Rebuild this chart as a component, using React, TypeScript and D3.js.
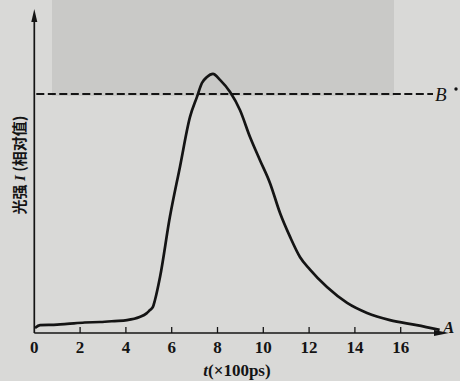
import * as d3 from "d3";
import { useEffect, useRef } from "react";

const WIDTH = 460;
const HEIGHT = 381;

// time in units of 100 ps
const TIMES = [
  0.03, 0.25, 1.0, 1.43, 2.2, 2.87, 3.5, 4.05, 4.6, 4.9, 5.05, 5.18, 5.27, 5.49, 5.92, 6.36, 6.8, 7.1,
  7.32, 7.54, 7.8, 8.11, 8.55, 8.98, 9.42, 9.85, 10.29, 10.73, 11.17, 11.6, 12.04, 12.78, 13.66,
  14.53, 15.53, 16.7, 17.7,
];
// relative intensity, dashed level B = 100
const INTENSITY = [
  2.1, 3.3, 3.5, 3.8, 4.4, 4.6, 5.0, 5.4, 6.7, 8.2, 9.6, 10.9, 13.8, 23.4, 48.5, 69.5, 90.4, 98.7,
  104.6, 107.1, 108.4, 105.9, 100.8, 93.3, 82, 72.4, 62.8, 50.2, 40.2, 31.8, 26.5, 19.2, 12.6, 8.4,
  5.4, 3.3, 1.3,
];
const X_TICKS = [0, 2, 4, 6, 8, 10, 12, 14, 16];
const B_LEVEL = 100;

const SERIF = "'Liberation Serif', 'DejaVu Serif', serif";
const CJK = "'Noto Sans CJK SC', 'Noto Sans', sans-serif";

export default function App() {
  const ref = useRef<SVGSVGElement>(null);

  useEffect(() => {
    const svg = d3.select(ref.current);
    svg.selectAll("*").remove();

    const x = d3.scaleLinear().domain([0, 18]).range([34.3, 446.5]);
    const y = d3.scaleLinear().domain([0, 100]).range([333, 94]);

    // paper
    svg.append("rect").attr("width", WIDTH).attr("height", HEIGHT).attr("fill", "#d9d9d7");
    svg.append("rect").attr("x", 52).attr("y", 0).attr("width", 342).attr("height", 96).attr("fill", "#c9c9c7");

    const ink = "#141414";

    // dashed B level
    svg
      .append("line")
      .attr("x1", x(0) + 2)
      .attr("x2", 433)
      .attr("y1", y(B_LEVEL))
      .attr("y2", y(B_LEVEL))
      .attr("stroke", ink)
      .attr("stroke-width", 1.8)
      .attr("stroke-dasharray", "8,3.5");

    // axes
    svg
      .append("line")
      .attr("x1", x(0))
      .attr("x2", x(0))
      .attr("y1", y(0))
      .attr("y2", 16)
      .attr("stroke", ink)
      .attr("stroke-width", 1.7);
    svg
      .append("path")
      .attr("d", `M${x(0)},9 L${x(0) - 3},22 L${x(0) + 3},22 Z`)
      .attr("fill", ink);
    svg
      .append("line")
      .attr("x1", x(0))
      .attr("x2", 440)
      .attr("y1", y(0))
      .attr("y2", y(0))
      .attr("stroke", ink)
      .attr("stroke-width", 1.7);
    svg
      .append("path")
      .attr("d", `M449,${y(0)} L434,${y(0) - 3} L434,${y(0) + 3} Z`)
      .attr("fill", ink);

    // ticks
    svg
      .append("g")
      .selectAll("line")
      .data(X_TICKS.slice(1))
      .join("line")
      .attr("x1", (d) => x(d))
      .attr("x2", (d) => x(d))
      .attr("y1", y(0))
      .attr("y2", y(0) - 6)
      .attr("stroke", ink)
      .attr("stroke-width", 1.3);

    svg
      .append("g")
      .selectAll("text")
      .data(X_TICKS)
      .join("text")
      .attr("x", (d) => x(d))
      .attr("y", 353)
      .attr("text-anchor", "middle")
      .attr("font-family", SERIF)
      .attr("font-weight", "bold")
      .attr("font-size", 17)
      .attr("fill", ink)
      .text((d) => d);

    // x label
    const xl = svg
      .append("text")
      .attr("x", 237)
      .attr("y", 376)
      .attr("text-anchor", "middle")
      .attr("font-family", SERIF)
      .attr("font-weight", "bold")
      .attr("font-size", 17)
      .attr("fill", ink);
    xl.append("tspan").attr("font-style", "italic").text("t");
    xl.append("tspan").text("(×100ps)");

    // y label
    const yl = svg
      .append("text")
      .attr("transform", `translate(25,165) rotate(-90)`)
      .attr("text-anchor", "middle")
      .attr("font-family", CJK)
      .attr("font-weight", "bold")
      .attr("font-size", 15)
      .attr("fill", ink);
    yl.append("tspan").text("光强 ");
    yl.append("tspan").attr("font-family", SERIF).attr("font-style", "italic").text("I");
    yl.append("tspan").text(" (相对值)");

    // curve
    const pts = TIMES.map((t, i) => [t, INTENSITY[i]] as [number, number]);
    const line = d3
      .line<[number, number]>()
      .x((d) => x(d[0]))
      .y((d) => y(d[1]))
      .curve(d3.curveMonotoneX);
    svg
      .append("path")
      .datum(pts)
      .attr("d", line)
      .attr("fill", "none")
      .attr("stroke", ink)
      .attr("stroke-width", 2.7)
      .attr("stroke-linejoin", "round");

    // endpoint labels
    svg
      .append("text")
      .attr("x", 435)
      .attr("y", y(B_LEVEL) + 7)
      .attr("font-family", SERIF)
      .attr("font-style", "italic")
      .attr("font-size", 19)
      .attr("fill", ink)
      .text("B");
    svg.append("circle").attr("cx", 456).attr("cy", 89).attr("r", 1.7).attr("fill", ink);
    svg
      .append("text")
      .attr("x", 443)
      .attr("y", 333)
      .attr("font-family", SERIF)
      .attr("font-style", "italic")
      .attr("font-weight", "bold")
      .attr("font-size", 17)
      .attr("fill", ink)
      .text("A");
  }, []);

  return (
    <svg
      ref={ref}
      width={WIDTH}
      height={HEIGHT}
      viewBox={`0 0 ${WIDTH} ${HEIGHT}`}
      style={{ position: "absolute", left: 0, top: 0, display: "block" }}
    />
  );
}
